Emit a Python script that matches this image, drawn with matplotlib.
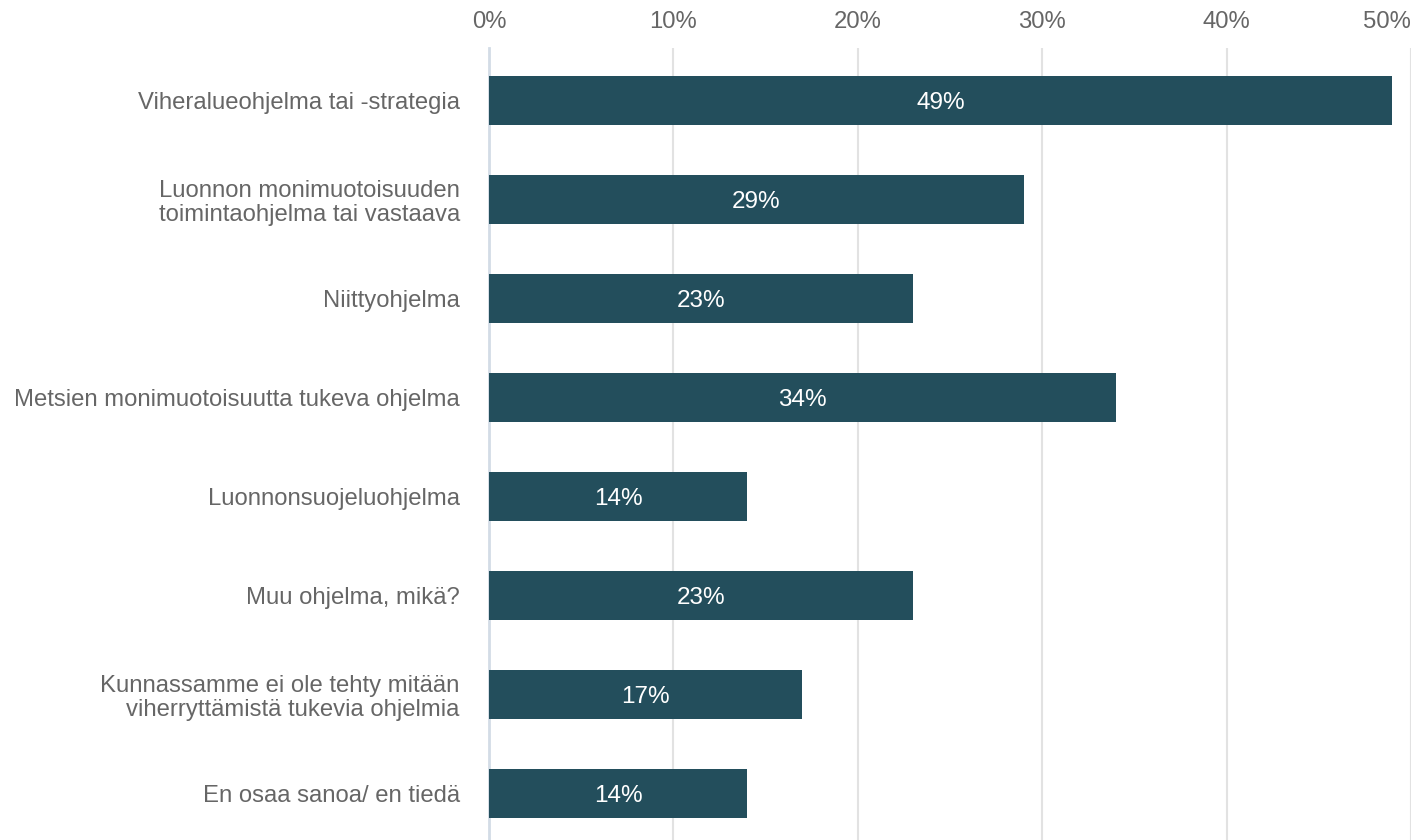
import matplotlib
matplotlib.use("Agg")
import matplotlib.pyplot as plt
import matplotlib.ticker as ticker

plt.rcParams['font.family'] = ['Liberation Sans', 'DejaVu Sans']

categories = [
    "Viheralueohjelma tai -strategia",
    "Luonnon monimuotoisuuden\ntoimintaohjelma tai vastaava",
    "Niittyohjelma",
    "Metsien monimuotoisuutta tukeva ohjelma",
    "Luonnonsuojeluohjelma",
    "Muu ohjelma, mikä?",
    "Kunnassamme ei ole tehty mitään\nviherryttämistä tukevia ohjelmia",
    "En osaa sanoa/ en tiedä",
]
values = [49, 29, 23, 34, 14, 23, 17, 14]
xticks = [0, 10, 20, 30, 40, 50]

fig = plt.figure(figsize=(14.14, 8.4), dpi=100)
ax = fig.add_axes([0.3458, 0.0, 0.652, 0.943])

pos = list(range(len(categories)))
bars = ax.barh(pos, values, height=0.5, color="#234E5C", zorder=3)
for b, v in zip(bars, values):
    ax.text(b.get_width() / 2, b.get_y() + b.get_height() / 2, f"{v}%",
            ha="center", va="center_baseline", color="white", fontsize=17.5, zorder=4)

ax.set_yticks(pos)
ax.set_yticklabels(categories, fontsize=17.2, color="#666666")
ax.set_ylim(7.47, -0.53)
ax.set_xlim(0, 50)
ax.set_xticks(xticks)
ax.xaxis.set_major_formatter(ticker.FuncFormatter(lambda x, p: f"{x:.0f}%"))
ax.xaxis.tick_top()
ax.tick_params(axis="x", length=0, labelsize=17.2, labelcolor="#666666", pad=11)
ax.tick_params(axis="y", length=0, pad=21)
for lab in ax.get_yticklabels():
    lab.set_multialignment("right")
    lab.set_linespacing(1.1)
ax.get_xticklabels()[-1].set_horizontalalignment("right")

ax.grid(axis="x", color="#e2e2e2", linewidth=1.5, zorder=0)
for s in ["top", "right", "bottom"]:
    ax.spines[s].set_visible(False)
ax.spines["left"].set_color("#d3dce6")
ax.spines["left"].set_linewidth(2)

fig.savefig("out.png", dpi=100)
